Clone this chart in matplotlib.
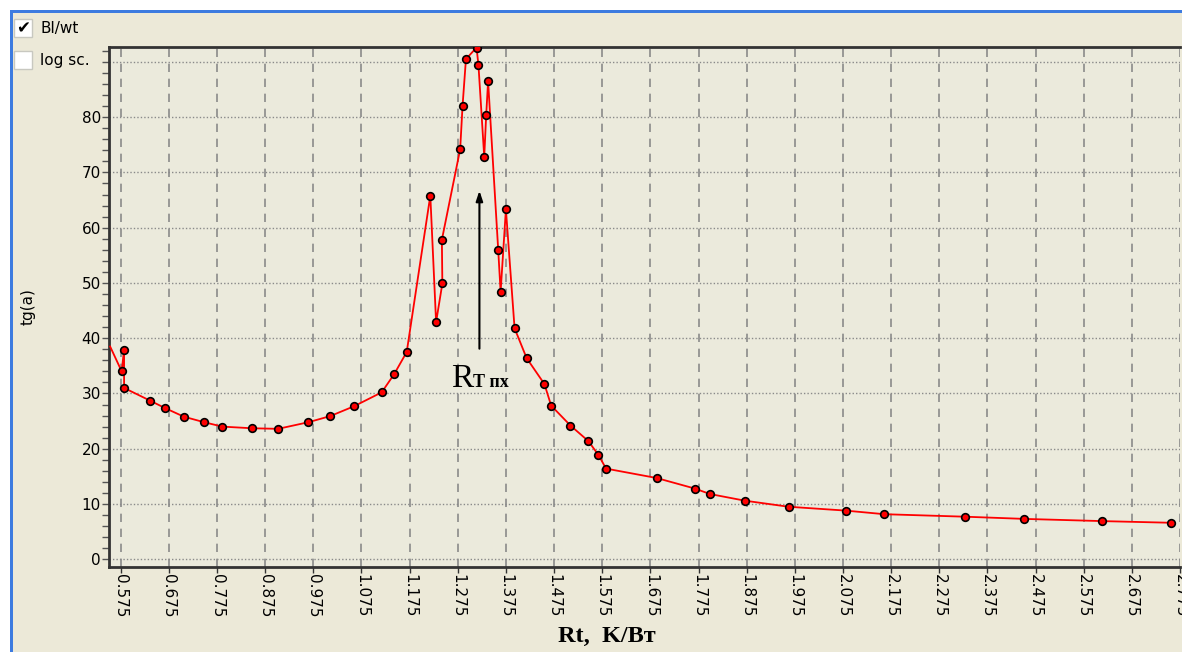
import numpy as np
import matplotlib
matplotlib.use('Agg')
import matplotlib.pyplot as plt
from matplotlib.patches import Rectangle
from matplotlib.ticker import MultipleLocator

# thermal resistance Rt, K/W  vs  tg(a)
rt = [0.553, 0.577, 0.582, 0.582, 0.636, 0.666, 0.706, 0.748, 0.786, 0.848,
      0.902, 0.965, 1.010, 1.060, 1.117, 1.143, 1.169, 1.218, 1.230, 1.243,
      1.242, 1.280, 1.285, 1.292, 1.314, 1.318, 1.330, 1.334, 1.338, 1.359,
      1.364, 1.375, 1.393, 1.418, 1.455, 1.469, 1.509, 1.546, 1.567, 1.583,
      1.688, 1.767, 1.799, 1.871, 1.962, 2.081, 2.161, 2.328, 2.452, 2.614,
      2.756]
tg = [38.5, 34.0, 37.9, 31.0, 28.7, 27.4, 25.8, 24.8, 24.0, 23.7,
      23.6, 24.8, 25.9, 27.7, 30.2, 33.5, 37.5, 65.8, 42.9, 49.9,
      57.8, 74.2, 82.1, 90.5, 92.6, 89.4, 72.8, 80.3, 86.5, 56.0,
      48.4, 63.3, 41.8, 36.4, 31.7, 27.8, 24.2, 21.4, 18.9, 16.4,
      14.7, 12.8, 11.8, 10.6, 9.5, 8.8, 8.15, 7.7, 7.3, 6.9,
      6.6]

xticks = [round(0.575 + 0.1 * k, 3) for k in range(23)]
xticklabels = ['%.3f' % v for v in xticks]
yticks = list(range(0, 100, 10))
yticklabels = [str(v) for v in yticks[:-1]] + ['']

bg = '#ECE9D8'
fig = plt.figure(figsize=(11.82, 6.52), dpi=100, facecolor=bg)
plt.rcParams['font.family'] = ['DejaVu Sans']

# window frame (white strip + blue border)
fig.patches.append(Rectangle((0, 1 - 10 / 652), 1, 10 / 652, transform=fig.transFigure,
                             facecolor='white', edgecolor='none', zorder=0))
fig.patches.append(Rectangle((0, 0), 10 / 1182, 1, transform=fig.transFigure,
                             facecolor='white', edgecolor='none', zorder=0))
fig.patches.append(Rectangle((10 / 1182, 1 - 13 / 652), 1, 3 / 652, transform=fig.transFigure,
                             facecolor='#3D7BE0', edgecolor='none', zorder=1))
fig.patches.append(Rectangle((10 / 1182, 0), 3 / 1182, 1 - 10 / 652, transform=fig.transFigure,
                             facecolor='#3D7BE0', edgecolor='none', zorder=1))

ax = fig.add_axes([109.3 / 1182, 1 - 566.7 / 652, (1180 - 109.3) / 1182, (566.7 - 46.7) / 652])
ax.set_facecolor('#EBEADC')

ax.plot(rt, tg, color='red', lw=1.3, marker='o', markersize=5.5,
        markerfacecolor='red', markeredgecolor='black', markeredgewidth=1.2,
        markevery=list(range(1, len(rt))), zorder=3)

ax.set_xlim(0.5513, 2.775)
ax.set_ylim(-1.35, 92.75)

ax.set_xticks(xticks)
ax.set_xticklabels(xticklabels, rotation=-90, fontsize=11)
ax.set_yticks(yticks)
ax.set_yticklabels(yticklabels, fontsize=11)
ax.yaxis.set_minor_locator(MultipleLocator(2))
ax.tick_params(axis='y', which='major', length=5, width=1, color='#555555', pad=1)
ax.tick_params(axis='y', which='minor', length=5, width=1, color='#555555')
ax.tick_params(axis='x', which='major', length=4, width=1, color='#333333', pad=1)

ax.grid(axis='x', color='#8a8a8a', linestyle=(0, (5, 4)), lw=1.2)
ax.grid(axis='y', color='#8a8a8a', linestyle=(0, (1, 1.5)), lw=1)
ax.set_axisbelow(True)

for s in ['left', 'bottom', 'top']:
    ax.spines[s].set_color('#333333')
    ax.spines[s].set_linewidth(2)
ax.spines['right'].set_visible(False)

ax.set_ylabel('tg(a)', fontsize=11)
ax.yaxis.set_label_coords(-0.0685, 0.5)
ax.set_xlabel('Rt,  K/Вт', fontsize=17.5, fontweight='bold', family='Liberation Serif')
ax.xaxis.set_label_coords(0.465, -0.135)
ax.xaxis.label.set_verticalalignment('center')

# arrow marking the resonance point
ax.annotate('', xy=(1.320, 67.2), xytext=(1.320, 37.6),
            arrowprops=dict(arrowstyle='-|>,head_length=0.6,head_width=0.2',
                            color='black', lw=1.5))
ax.text(1.262, 31.2, 'R', fontsize=24, family='Liberation Serif', color='black')
ax.text(1.306, 31.2, 'Т пх', fontsize=13, family='Liberation Serif',
        fontweight='bold', color='black')

# checkboxes
for yy, lab, checked in [(28, 'Bl/wt', True), (60, 'log sc.', False)]:
    fig.patches.append(Rectangle((14 / 1182, 1 - (yy + 9) / 652), 18 / 1182, 18 / 652,
                                 transform=fig.transFigure, facecolor='white',
                                 edgecolor='#c8c8c0', lw=1, zorder=2))
    if checked:
        fig.text(23 / 1182, 1 - yy / 652, '✔', fontsize=12, ha='center', va='center')
    fig.text(40 / 1182, 1 - yy / 652, lab, fontsize=11, ha='left', va='center')

fig.savefig('out.png', dpi=100, facecolor=bg)
